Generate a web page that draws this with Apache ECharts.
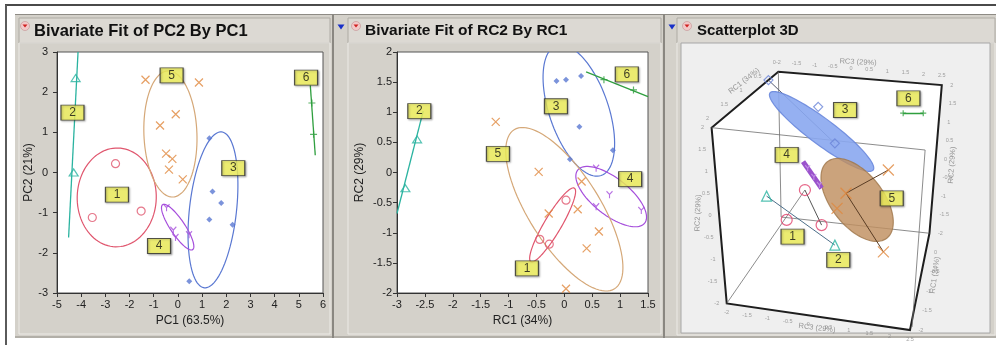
<!DOCTYPE html>
<html>
<head>
<meta charset="utf-8">
<script src="https://cdn.jsdelivr.net/npm/echarts@6/dist/echarts.min.js"></script>
<style>
html, body { margin: 0; padding: 0; background: #fff; }
#chart { width: 996px; height: 345px; }
</style>
</head>
<body>
<div id="chart"></div>
<script>
const FONT = 'Arial, "Liberation Sans", sans-serif';

// ---- Bivariate Fit of PC2 By PC1 ----
const pcCluster1 = [[-2.58, 0.22], [-3.54, -1.12], [-1.52, -0.96]];
const pcCluster2 = [[-4.23, 2.35], [-4.31, 0.0]];
const pcCluster3 = [[1.30, 0.85], [1.43, -0.47], [1.79, -0.76], [1.30, -1.17], [2.26, -1.30], [0.47, -2.71]];
const pcCluster4 = [[-0.47, -0.88], [-0.19, -1.44], [-0.10, -1.62], [0.46, -1.55]];
const pcCluster5 = [[-1.34, 2.31], [0.87, 2.24], [-0.09, 1.45], [-0.74, 1.17], [-0.49, 0.47], [-0.23, 0.34], [-0.37, 0.07], [0.20, -0.17]];
const pcCluster6 = [[5.54, 1.73], [5.61, 0.95]];
// density ellipses: centre x, centre y, half major axis (dx, dy), minor/major ratio
const pcEllipse1 = [-2.53, -0.62, 0.05, 1.23, 0.80];
const pcEllipse3 = [1.45, -0.93, 0.36, 1.94, 0.30];
const pcEllipse4 = [-0.01, -1.36, 0.62, -0.56, 0.27];
const pcEllipse5 = [-0.31, 0.96, -0.10, 1.57, 0.42];
const pcFit2 = [[-4.52, -1.62], [-4.13, 3.0]];
const pcFit6 = [[5.475, 2.17], [5.68, 0.43]];
const pcTags = [[-2.52, -0.55, '1'], [-4.36, 1.49, '2'], [2.29, 0.11, '3'], [-0.78, -1.83, '4'], [-0.26, 2.42, '5'], [5.30, 2.36, '6']];

// ---- Bivariate Fit of RC2 By RC1 ----
const rcCluster1 = [[0.03, -0.46], [-0.44, -1.11], [-0.27, -1.19]];
const rcCluster2 = [[-2.64, 0.55], [-2.85, -0.26]];
const rcCluster3 = [[-0.14, 1.52], [0.03, 1.54], [0.30, 1.60], [0.27, 0.76], [0.10, 0.22], [0.87, 0.37]];
const rcCluster4 = [[0.57, 0.07], [0.81, -0.37], [0.57, -0.57], [1.38, -0.63]];
const rcCluster5 = [[-1.23, 0.84], [-0.46, 0.01], [0.31, -0.15], [-0.28, -0.68], [0.24, -0.61], [0.62, -0.98], [0.40, -1.26], [0.03, -1.93]];
const rcCluster6 = [[0.71, 1.54], [1.24, 1.37]];
const rcEllipse1 = [-0.21, -0.87, 0.39, 0.61, 0.20];
const rcEllipse3 = [0.26, 1.03, 0.40, -1.08, 0.43];
const rcEllipse4 = [0.84, -0.40, 0.60, -0.44, 0.43];
const rcEllipse5 = [0.00, -0.61, 0.90, -1.32, 0.38];
const rcFit2 = [[-3.0, -0.68], [-2.53, 1.02]];
const rcFit6 = [[0.39, 1.67], [1.5, 1.26]];
const rcTags = [[-0.67, -1.59, '1'], [-2.60, 1.02, '2'], [-0.15, 1.10, '3'], [1.18, -0.11, '4'], [-1.19, 0.31, '5'], [1.12, 1.63, '6']];

// ---- Scatterplot 3D, read as projected positions in the plot frame (0-100) ----
const boxOutline = [[9.9, 70.8], [31.5, 90.1], [84.4, 85.5], [80.4, 34.4], [74.1, 1.0], [14.8, 10.2]];
const boxInnerEdges = [
  [[31.5, 90.1], [32.4, 40.0]], [[32.4, 40.0], [80.4, 34.4]], [[9.9, 70.8], [79.0, 63.1]],
  [[79.0, 63.1], [74.8, 2.1]], [[14.8, 10.2], [40.1, 49.3]]
];
const s3Cluster1 = [[40.1, 49.3], [34.2, 39.0], [45.5, 37.2]];
const s3Cluster2 = [[27.7, 47.2], [49.8, 30.3]];
const s3Cluster3 = [[28.3, 87.2], [44.4, 78.0], [49.8, 65.4]];
const s3Cluster4 = [[41.0, 56.8], [43.0, 53.8], [44.8, 51.0]];
const s3Cluster5 = [[67.1, 56.2], [65.5, 28.0], [53.4, 48.2], [50.5, 43.0]];
const s3Cluster6 = [[71.9, 75.8], [78.4, 75.8]];
const s3Ellipsoid3 = [45.5, 69.5, 16.7, -13.3, 0.20];
const s3Ellipsoid5 = [57.0, 45.9, 9.6, -13.2, 0.54];
const s3Rods1 = [[[40.1, 49.3], [45.5, 37.2]]];
const s3Rods2 = [[[27.7, 47.2], [49.8, 30.3]]];
const s3Rods3 = [[[28.3, 87.2], [49.8, 65.4]]];
const s3Rods4 = [[[39.5, 59.1], [45.5, 49.9]]];
const s3Rods5 = [[[67.1, 56.2], [53.4, 48.2]], [[53.4, 48.2], [65.5, 28.0]]];
const s3Rods6 = [[[71.9, 75.8], [78.4, 75.8]]];
const s3Tags = [[53.1, 76.9, '3'], [73.6, 80.9, '6'], [34.2, 61.4, '4'], [68.2, 46.4, '5'], [36.1, 33.2, '1'], [50.9, 25.2, '2']];
const rc2Ticks = ['2', '1.5', '1', '0.5', '0', '-0.5', '-1', '-1.5', '-2'];
const rc3Ticks = ['-2', '-1.5', '-1', '-0.5', '0', '0.5', '1', '1.5', '2', '2.5'];
const rc1TicksTop = ['2', '1.5', '1', '0.5', '0'];
const rc1TicksSide = ['0', '-0.5', '-1', '-1.5', '-2'];
const s3AxisTitles = [['RC3 (29%)', 57.3, 93.4], ['RC1 (34%)', 20.4, 86.9], ['RC2 (29%)', 5.5, 41.4],
  ['RC2 (29%)', 87.7, 57.9], ['RC1 (34%)', 82.2, 20.0], ['RC3 (29%)', 44.0, 1.7]];
const s3AxisTitleTurn = [-3, 38, 88, 86, 82, -7];

const C1 = '#e0566e', C2 = '#2ab3a0', C3 = '#5a78d2', C4 = '#a64fdc', C5 = '#e0873c', C5E = '#d5a878', C6 = '#2f9f3f';
const X_MARK = 'path://M0,0L10,10M10,0L0,10';
const Y_MARK = 'path://M0,0L5,5L10,0M5,5L5,11';
const PLUS_MARK = 'path://M5,0L5,10M0,5L10,5';
const TRI_MARK = 'path://M5,0L10,9L0,9Z';

function ellipseSeries(grid, ell, stroke, fill, opacity, z) {
  return {
    type: 'custom', xAxisIndex: grid, yAxisIndex: grid, clip: true, silent: true, z: z || 2,
    data: [ell],
    renderItem(params, api) {
      const c = api.coord([api.value(0), api.value(1)]);
      const e = api.coord([api.value(0) + api.value(2), api.value(1) + api.value(3)]);
      const ux = e[0] - c[0], uy = e[1] - c[1], r = api.value(4);
      const vx = -uy * r, vy = ux * r;
      const pts = [];
      for (let i = 0; i <= 96; i++) {
        const t = i / 96 * Math.PI * 2;
        pts.push([c[0] + ux * Math.cos(t) + vx * Math.sin(t), c[1] + uy * Math.cos(t) + vy * Math.sin(t)]);
      }
      return { type: 'polygon', shape: { points: pts },
        style: { fill: fill || 'none', stroke: stroke, lineWidth: 1.2, opacity: opacity == null ? 1 : opacity } };
    }
  };
}

function markSeries(grid, pts, symbol, size, color, hollow, z) {
  return {
    type: 'scatter', xAxisIndex: grid, yAxisIndex: grid, data: pts, symbol: symbol, symbolSize: size,
    silent: true, z: z || 4,
    itemStyle: hollow ? { color: 'transparent', borderColor: color, borderWidth: 1.2 } : { color: color }
  };
}

function segSeries(grid, segs, color, width, z) {
  return {
    type: 'lines', coordinateSystem: 'cartesian2d', xAxisIndex: grid, yAxisIndex: grid, silent: true, z: z || 3,
    data: segs.map(s => ({ coords: s })),
    lineStyle: { color: color, width: width, opacity: 1 }
  };
}

function tagSeries(grid, tags) {
  return {
    type: 'scatter', xAxisIndex: grid, yAxisIndex: grid, silent: true, z: 10,
    data: tags.map(t => ({ value: [t[0], t[1]], name: t[2] })),
    symbol: 'rect', symbolSize: [23, 15],
    itemStyle: { color: '#f7f75e', borderColor: '#2b2b2b', borderWidth: 1,
      shadowColor: 'rgba(0,0,0,0.35)', shadowBlur: 2, shadowOffsetX: 1, shadowOffsetY: 1 },
    label: { show: true, position: 'inside', formatter: '{b}', color: '#111', fontSize: 12, fontFamily: FONT }
  };
}

function edgeLabels(p0, p1, values, skipFirst) {
  const n = values.length;
  return values.map((v, i) => {
    const f = skipFirst ? (i + 1) / n : i / (n - 1);
    return { value: [p0[0] + (p1[0] - p0[0]) * f, p0[1] + (p1[1] - p0[1]) * f], name: v };
  });
}

function tickLabelSeries(data, position, offset) {
  return {
    type: 'scatter', xAxisIndex: 2, yAxisIndex: 2, silent: true, z: 5, data: data,
    symbolSize: 1, itemStyle: { color: 'transparent' },
    label: { show: true, position: position, offset: offset || [0, 0], formatter: '{b}', color: '#8a8a8a', fontSize: 5.5, fontFamily: FONT }
  };
}

function axis2d(grid, min, max, interval, name, nameGap, margin) {
  return {
    type: 'value', gridIndex: grid, min: min, max: max, interval: interval,
    name: name, nameLocation: 'middle', nameGap: nameGap,
    nameTextStyle: { color: '#222', fontSize: 12, fontFamily: FONT },
    axisLine: { show: true, onZero: false, lineStyle: { color: '#333', width: 1 } },
    axisTick: { show: true, length: 4, lineStyle: { color: '#333' } },
    axisLabel: { color: '#222', fontSize: 11, fontFamily: FONT, margin: margin },
    splitLine: { show: false }
  };
}

const [A, B, Cc, G, E, D] = boxOutline;

const graphic = [
  { type: 'rect', z: -10, shape: { x: 5, y: 4, width: 991, height: 2 }, style: { fill: '#4a4a4a' } },
  { type: 'rect', z: -10, shape: { x: 5, y: 5, width: 2, height: 340 }, style: { fill: '#5a5a5a' } },
  { type: 'rect', z: -10, shape: { x: 15, y: 14, width: 981, height: 322 }, style: { fill: '#d4d1ca' } },
  { type: 'rect', z: -10, shape: { x: 15, y: 14, width: 981, height: 1 }, style: { fill: '#8e8b85' } },
  { type: 'rect', z: -10, shape: { x: 15, y: 336, width: 981, height: 2 }, style: { fill: '#b2afa8' } },
  { type: 'rect', z: -10, shape: { x: 332, y: 14, width: 2, height: 324 }, style: { fill: '#8a8781' } },
  { type: 'rect', z: -10, shape: { x: 663, y: 14, width: 2, height: 324 }, style: { fill: '#8a8781' } },
  // title bars
  { type: 'rect', z: -9, shape: { x: 19, y: 18, width: 311, height: 25 }, style: { fill: '#dcd9d3', stroke: '#aeaba4', lineWidth: 1 } },
  { type: 'rect', z: -9, shape: { x: 348, y: 18, width: 313, height: 25 }, style: { fill: '#dcd9d3', stroke: '#aeaba4', lineWidth: 1 } },
  { type: 'rect', z: -9, shape: { x: 677, y: 18, width: 318, height: 25 }, style: { fill: '#dcd9d3', stroke: '#aeaba4', lineWidth: 1 } },
  // inner frames
  { type: 'rect', z: -9, shape: { x: 19, y: 43, width: 311, height: 291 }, style: { fill: 'none', stroke: '#eceae6', lineWidth: 1 } },
  { type: 'rect', z: -9, shape: { x: 348, y: 43, width: 313, height: 291 }, style: { fill: 'none', stroke: '#eceae6', lineWidth: 1 } },
  { type: 'rect', z: -9, shape: { x: 677, y: 43, width: 318, height: 292 }, style: { fill: 'none', stroke: '#eceae6', lineWidth: 1 } },
  // titles
  { type: 'text', z: 100, x: 34, y: 31, style: { text: 'Bivariate Fit of PC2 By PC1', font: 'bold 16.5px ' + FONT, fill: '#111', verticalAlign: 'middle' } },
  { type: 'text', z: 100, x: 365, y: 31, style: { text: 'Bivariate Fit of RC2 By RC1', font: 'bold 15.5px ' + FONT, fill: '#111', verticalAlign: 'middle' } },
  { type: 'text', z: 100, x: 697, y: 31, style: { text: 'Scatterplot 3D', font: 'bold 15px ' + FONT, fill: '#111', verticalAlign: 'middle' } }
];
// disclosure icons
[[25, 26], [356, 26], [687, 26]].forEach(p => {
  graphic.push({ type: 'circle', z: 100, shape: { cx: p[0], cy: p[1], r: 4.5 }, style: { fill: '#f2c9c9', stroke: '#c9a0a0', lineWidth: 0.8 } });
  graphic.push({ type: 'polygon', z: 101, shape: { points: [[p[0] - 2.5, p[1] - 1.5], [p[0] + 2.5, p[1] - 1.5], [p[0], p[1] + 1.5]] }, style: { fill: '#d02020' } });
});
[[341, 27], [672, 27]].forEach(p => {
  graphic.push({ type: 'polygon', z: 100, shape: { points: [[p[0] - 3.5, p[1] - 2.5], [p[0] + 3.5, p[1] - 2.5], [p[0], p[1] + 2.5]] }, style: { fill: '#1830c8' } });
});

const boxSeries = [
  {
    type: 'custom', xAxisIndex: 2, yAxisIndex: 2, silent: true, z: 1, data: [0],
    renderItem(params, api) {
      const pts = boxOutline.map(p => api.coord(p));
      return { type: 'polygon', shape: { points: pts }, style: { fill: '#ffffff', stroke: '#1e1e1e', lineWidth: 2 } };
    }
  },
  segSeries(2, boxInnerEdges, '#6e6e6e', 0.8, 2)
];

const s3Titles = {
  type: 'scatter', xAxisIndex: 2, yAxisIndex: 2, silent: true, z: 5, symbolSize: 1, itemStyle: { color: 'transparent' },
  data: s3AxisTitles.map((t, i) => ({ value: [t[1], t[2]], name: t[0], label: { rotate: s3AxisTitleTurn[i] } })),
  label: { show: true, position: 'inside', formatter: '{b}', color: '#808080', fontSize: 7.5, fontFamily: FONT }
};

const option = {
  animation: false,
  backgroundColor: '#ffffff',
  graphic: graphic,
  grid: [
    { left: 57, top: 52, width: 266, height: 241, show: true, backgroundColor: '#ffffff', borderColor: '#555', borderWidth: 1 },
    { left: 397, top: 52, width: 251, height: 241, show: true, backgroundColor: '#ffffff', borderColor: '#555', borderWidth: 1 },
    { left: 681, top: 43, width: 309, height: 290, show: true, backgroundColor: '#efefef', borderColor: '#a8a8a8', borderWidth: 1 }
  ],
  xAxis: [
    axis2d(0, -5, 6, 1, 'PC1 (63.5%)', 21, 6),
    axis2d(1, -3, 1.5, 0.5, 'RC1 (34%)', 21, 6),
    { type: 'value', gridIndex: 2, min: 0, max: 100, show: false }
  ],
  yAxis: [
    axis2d(0, -3, 3, 1, 'PC2 (21%)', 21, 9),
    axis2d(1, -2, 2, 0.5, 'RC2 (29%)', 31, 5),
    { type: 'value', gridIndex: 2, min: 0, max: 100, show: false }
  ],
  series: [
    // panel 1
    ellipseSeries(0, pcEllipse1, C1),
    ellipseSeries(0, pcEllipse3, C3),
    ellipseSeries(0, pcEllipse4, C4),
    ellipseSeries(0, pcEllipse5, C5E),
    segSeries(0, [pcFit2], C2, 1.3),
    segSeries(0, [pcFit6], C6, 1.3),
    markSeries(0, pcCluster1, 'circle', 8, C1, true),
    markSeries(0, pcCluster2, TRI_MARK, [9, 7], C2, true),
    markSeries(0, pcCluster3, 'diamond', 6, C3, false),
    markSeries(0, pcCluster4, Y_MARK, [6, 7], C4, true),
    markSeries(0, pcCluster5, X_MARK, 8, C5, true),
    markSeries(0, pcCluster6, PLUS_MARK, 7, C6, true),
    tagSeries(0, pcTags),
    // panel 2
    ellipseSeries(1, rcEllipse1, C1),
    ellipseSeries(1, rcEllipse3, C3),
    ellipseSeries(1, rcEllipse4, C4),
    ellipseSeries(1, rcEllipse5, C5E),
    segSeries(1, [rcFit2], C2, 1.3),
    segSeries(1, [rcFit6], C6, 1.3),
    markSeries(1, rcCluster1, 'circle', 8, C1, true),
    markSeries(1, rcCluster2, TRI_MARK, [9, 7], C2, true),
    markSeries(1, rcCluster3, 'diamond', 6, C3, false),
    markSeries(1, rcCluster4, Y_MARK, [6, 7], C4, true),
    markSeries(1, rcCluster5, X_MARK, 8, C5, true),
    markSeries(1, rcCluster6, PLUS_MARK, 7, C6, true),
    tagSeries(1, rcTags),
    // panel 3
    ...boxSeries,
    tickLabelSeries(edgeLabels(A, D, rc2Ticks), 'left', [-2, 0]),
    tickLabelSeries(edgeLabels(B, Cc, rc3Ticks), 'top', [0, -1]),
    tickLabelSeries(edgeLabels(D, E, rc3Ticks), 'bottom', [0, 1]),
    tickLabelSeries(edgeLabels(Cc, G, rc2Ticks), 'right', [3, 0]),
    tickLabelSeries(edgeLabels(G, E, rc1TicksSide, true), 'right', [3, 0]),
    tickLabelSeries(edgeLabels(A, B, rc1TicksTop), 'top', [-4, -1]),
    s3Titles,
    segSeries(2, s3Rods2, '#4d6f8a', 1),
    segSeries(2, s3Rods3, '#555b70', 1),
    ellipseSeries(2, s3Ellipsoid3, '#6a88dc', '#8aa7ef', 0.9, 3),
    ellipseSeries(2, s3Ellipsoid5, '#a0774c', '#bf8f5f', 0.82, 3),
    segSeries(2, s3Rods1, '#555555', 1, 4),
    segSeries(2, s3Rods4, '#9a52cc', 5, 4),
    segSeries(2, s3Rods5, '#5a3d24', 1, 4),
    segSeries(2, s3Rods6, C6, 1.3, 4),
    markSeries(2, s3Cluster1, 'circle', 11, '#e0406a', true, 5),
    markSeries(2, s3Cluster2, TRI_MARK, 10, C2, true, 5),
    markSeries(2, s3Cluster3, 'diamond', 9, '#6a84d8', true, 5),
    markSeries(2, s3Cluster4, Y_MARK, [5, 6], '#c89ae8', true, 5),
    markSeries(2, s3Cluster5, X_MARK, 11, C5, true, 5),
    markSeries(2, s3Cluster6, PLUS_MARK, 6, C6, true, 5),
    tagSeries(2, s3Tags)
  ]
};

const chart = echarts.init(document.getElementById('chart'));
chart.setOption(option);
</script>
</body>
</html>
